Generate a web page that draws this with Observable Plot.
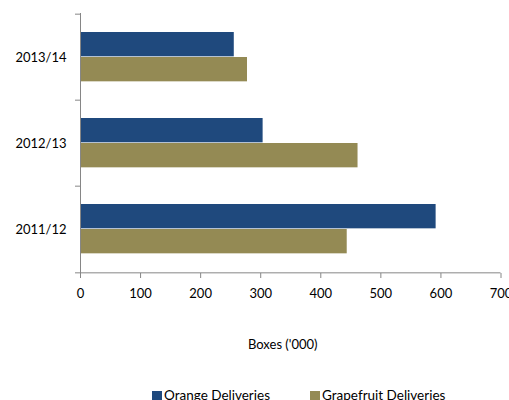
<!DOCTYPE html>
<html>
<head>
<meta charset="utf-8">
<script src="https://cdn.jsdelivr.net/npm/d3@7"></script>
<script src="https://cdn.jsdelivr.net/npm/@observablehq/plot@0.6"></script>
<style>
  body { margin: 0; background: #fff; font-family: Lato, "Open Sans", sans-serif; }
  #wrap { width: 509px; overflow: hidden; }
  .legend { position: relative; width: 509px; height: 16px; margin-top: 3px; font-size: 13.5px; line-height: 16px; color: #000; }
  .legend .item { position: absolute; top: 0; white-space: nowrap; }
  .legend .sw { display: inline-block; width: 10px; height: 10px; margin-right: 2px; vertical-align: -1px; }
</style>
</head>
<body>
<div id="wrap"></div>
<script>
// Citrus deliveries by season, thousands of boxes
const seasons = ["2013/14", "2012/13", "2011/12"];
const seriesNames = ["Orange Deliveries", "Grapefruit Deliveries"];
const orange = [256, 304, 592];
const grapefruit = [278, 462, 444];
const xTicks = [0, 100, 200, 300, 400, 500, 600, 700];
const colors = ["#1F497D", "#948A54"];

const W = 509, H = 384;
const plotTop = 13, plotBottom = 273;
const band = (plotBottom - plotTop) / seasons.length;
const barH = 25;
const lead = 18; // gap from band edge to first bar

const orangeRows = seasons.map((s, i) => ({season: s, series: seriesNames[0], value: orange[i]}));
const grapeRows = seasons.map((s, i) => ({season: s, series: seriesNames[1], value: grapefruit[i]}));

const axisGray = "#868686";

const chart = Plot.plot({
  width: W,
  height: H,
  marginLeft: 80,
  marginRight: 8.5,
  marginTop: plotTop,
  marginBottom: H - plotBottom,
  style: {fontSize: "13px", fontFamily: "Lato, 'Open Sans', sans-serif", color: "#000", background: "#fff"},
  x: {domain: [0, 700]},
  y: {domain: seasons, padding: 0},
  color: {domain: seriesNames, range: colors},
  marks: [
    Plot.barX(orangeRows, {
      y: "season", x: "value", fill: "series",
      insetTop: lead, insetBottom: band - lead - barH
    }),
    Plot.barX(grapeRows, {
      y: "season", x: "value", fill: "series",
      insetTop: lead + barH, insetBottom: band - lead - 2 * barH
    }),
    // category axis: labels centred on each season, ticks on the season boundaries
    Plot.axisY({tickSize: 0, tickPadding: 14, label: null}),
    Plot.axisY({tickSize: 5, text: null, label: null, stroke: axisGray, dy: -band / 2}),
    Plot.axisY({ticks: [seasons[seasons.length - 1]], tickSize: 5, text: null, label: null, stroke: axisGray, dy: band / 2}),
    Plot.ruleX([0], {stroke: axisGray}),
    // value axis
    Plot.axisX({ticks: xTicks, tickSize: 5, tickPadding: 10, stroke: axisGray, label: null}),
    Plot.ruleY([seasons[seasons.length - 1]], {x1: 0, x2: 700, dy: band / 2, stroke: axisGray}),
    Plot.text(["Boxes ('000)"], {frameAnchor: "bottom", dy: 75, dx: -8, fill: "#000"})
  ]
});

const wrap = document.getElementById("wrap");
wrap.appendChild(chart);

const legend = document.createElement("div");
legend.className = "legend";
const positions = [152, 310];
seriesNames.forEach((name, i) => {
  const item = document.createElement("span");
  item.className = "item";
  item.style.left = positions[i] + "px";
  const sw = document.createElement("span");
  sw.className = "sw";
  sw.style.background = colors[i];
  item.appendChild(sw);
  item.appendChild(document.createTextNode(name));
  legend.appendChild(item);
});
wrap.appendChild(legend);
</script>
</body>
</html>
